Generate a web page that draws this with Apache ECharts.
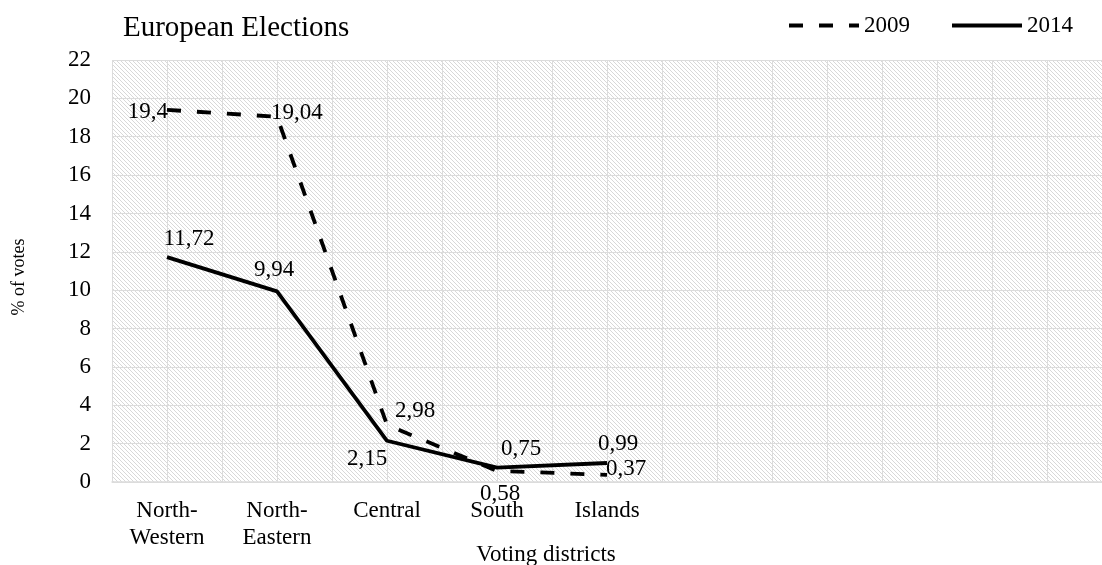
<!DOCTYPE html>
<html>
<head>
<meta charset="utf-8">
<title>European Elections</title>
<script src="https://cdn.jsdelivr.net/npm/echarts@6/dist/echarts.min.js"></script>
<style>
  html, body { margin: 0; padding: 0; background: #fff; }
  #chart { width: 1102px; height: 565px; }
</style>
</head>
<body>
<div id="chart"></div>
<script>
// Voting districts (two-line axis labels)
const categories = ['North-\nWestern', 'North-\nEastern', 'Central', 'South', 'Islands'];
// the category axis leaves room for four unused slots on the right
const unusedSlots = ['', '', '', ''];

// Share of votes (%) per district
const votes2009 = [19.4, 19.04, 2.98, 0.58, 0.37];
const votes2014 = [11.72, 9.94, 2.15, 0.75, 0.99];

const yTicks = { min: 0, max: 22, interval: 2 };

const FONT = "'Liberation Serif', 'Times New Roman', serif";
const TEXT_SIZE = 23;

// label placement per point
const labelPlace2009 = [
  { position: 'left', distance: -1, offset: [0, 2] },
  { position: 'right', distance: -6, offset: [0, -4] },
  { position: 'right', distance: 8, offset: [0, -14] },
  { position: 'bottom', distance: 5, offset: [3, 7] },
  { position: 'right', distance: -1, offset: [0, -6] }
];
const labelPlace2014 = [
  { position: 'top', distance: 5, offset: [22, -2] },
  { position: 'top', distance: 5, offset: [-3, -5] },
  { position: 'bottom', distance: 5, offset: [-20, 2] },
  { position: 'top', distance: 5, offset: [24, -2] },
  { position: 'top', distance: 5, offset: [11, -3] }
];

// diagonal hatch used as the plot background
function hatchPattern() {
  const c = document.createElement('canvas');
  c.width = 4; c.height = 4;
  const ctx = c.getContext('2d');
  ctx.fillStyle = '#ffffff';
  ctx.fillRect(0, 0, 4, 4);
  ctx.fillStyle = '#d8d8d8';
  for (let i = 0; i < 4; i++) ctx.fillRect(i, i, 1, 1);
  return { image: c, repeat: 'repeat' };
}

const fmt = p => String(p.value).replace('.', ',');

function withLabels(values, places) {
  return values.map((v, i) => ({
    value: v,
    label: Object.assign({}, places[i])
  }));
}

const gridLine = '#dcdcdc';

const chart = echarts.init(document.getElementById('chart'), null, { renderer: 'canvas' });
chart.setOption({
  animation: false,
  backgroundColor: '#ffffff',
  textStyle: { fontFamily: FONT, color: '#000' },
  title: [
    {
      text: 'European Elections',
      left: 118, top: 9,
      textStyle: { fontFamily: FONT, fontSize: 29, fontWeight: 'normal', color: '#000' }
    },
    {
      text: 'Voting districts',
      left: 541, top: 538,
      textAlign: 'center',
      textStyle: { fontFamily: FONT, fontSize: TEXT_SIZE, fontWeight: 'normal', color: '#000' }
    }
  ],
  legend: {
    top: 9, right: 24,
    itemWidth: 70, itemHeight: 14, itemGap: 40,
    itemStyle: { opacity: 0 },
    lineStyle: { width: 4 },
    textStyle: { fontFamily: FONT, fontSize: TEXT_SIZE, color: '#000' },
    data: ['2009', '2014']
  },
  grid: {
    left: 112, top: 60, width: 995, bottom: 83,
    show: true,
    borderWidth: 0,
    backgroundColor: hatchPattern()
  },
  xAxis: [
    {
      type: 'category',
      data: categories.concat(unusedSlots),
      boundaryGap: true,
      axisLine: { show: true, lineStyle: { color: gridLine, width: 1.5 } },
      axisTick: { show: false },
      splitLine: { show: false },
      axisLabel: {
        interval: 0, margin: 15,
        fontFamily: FONT, fontSize: TEXT_SIZE, lineHeight: 27, color: '#000'
      },
      z: 3
    },
    {
      // vertical guide lines every half band
      type: 'category',
      data: new Array(18).fill(''),
      boundaryGap: true,
      axisLine: { show: false },
      axisTick: { show: false },
      axisLabel: { show: false },
      splitLine: { show: true, interval: 0, lineStyle: { color: gridLine, width: 1 } }
    }
  ],
  yAxis: {
    type: 'value',
    min: yTicks.min, max: yTicks.max, interval: yTicks.interval,
    name: '% of votes',
    nameLocation: 'middle',
    nameGap: 84,
    nameRotate: 90,
    nameTextStyle: { fontFamily: FONT, fontSize: 18, color: '#000', padding: [0, 0, 0, -12] },
    axisLine: { show: false },
    axisTick: { show: false },
    axisLabel: { margin: 21, fontFamily: FONT, fontSize: TEXT_SIZE, color: '#000' },
    splitLine: { show: true, lineStyle: { color: gridLine, width: 1 } }
  },
  series: [
    {
      name: '2009',
      type: 'line',
      xAxisIndex: 0,
      data: withLabels(votes2009, labelPlace2009),
      symbol: 'circle',
      symbolSize: 0,
      showSymbol: true,
      lineStyle: { color: '#000', width: 3.8, type: [14, 16], cap: 'butt' },
      itemStyle: { color: '#000' },
      label: { show: true, formatter: fmt, fontFamily: FONT, fontSize: TEXT_SIZE, color: '#000' },
      z: 4
    },
    {
      name: '2014',
      type: 'line',
      xAxisIndex: 0,
      data: withLabels(votes2014, labelPlace2014),
      symbol: 'circle',
      symbolSize: 0,
      showSymbol: true,
      lineStyle: { color: '#000', width: 3.8, type: 'solid' },
      itemStyle: { color: '#000' },
      label: { show: true, formatter: fmt, fontFamily: FONT, fontSize: TEXT_SIZE, color: '#000' },
      z: 5
    }
  ]
});
</script>
</body>
</html>
